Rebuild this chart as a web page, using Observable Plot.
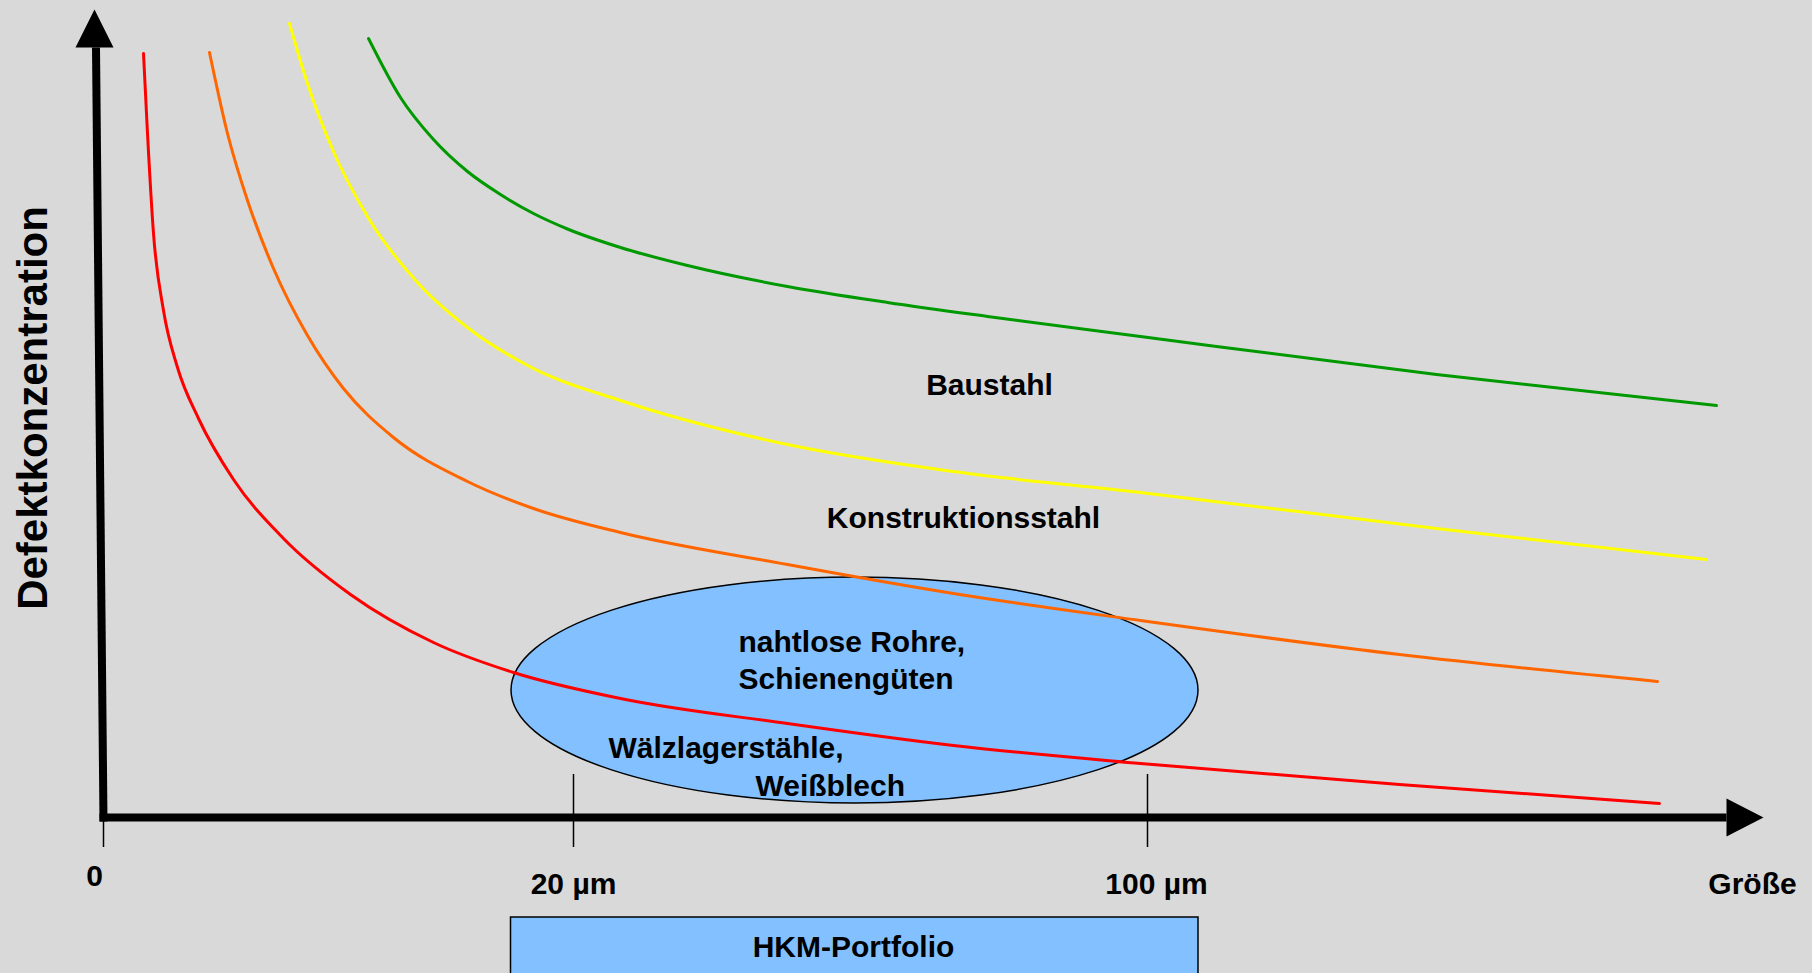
<!DOCTYPE html>
<html>
<head>
<meta charset="utf-8">
<script src="https://cdn.jsdelivr.net/npm/d3@7"></script>
<script src="https://cdn.jsdelivr.net/npm/@observablehq/plot@0.6"></script>
<style>
  html, body { margin: 0; padding: 0; background: #d9d9d9; }
  #chart svg { display: block; }
</style>
</head>
<body>
<div id="chart"></div>
<script>
// Abstract coordinates: x = "Größe" position from the origin, y = "Defektkonzentration" level.
// Curve points.
const redPts    = [[40,764],[44,684],[50,584],[60,507],[74,450],[95,399],[130,338],[180,279],[247,223],[330,175],[410,145],[517,119],[684,94],[850,72],[1037,54],[1296,33],[1556,14]];
const orangePts = [[106,765],[124,684],[144,617],[170,549],[204,482],[240,429],[290,380],[364,336],[430,309],[517,285],[684,253],[850,224],[1037,197],[1296,163],[1554,136]];
const yellowPts = [[186,794],[204,734],[230,666],[264,601],[314,535],[364,490],[430,449],[517,417],[684,373],[850,346],[1037,325],[1333,289],[1603,258]];
const greenPts  = [[265,779],[297,720],[330,678],[364,646],[397,623],[430,604],[464,588.5],[517,570],[584,552],[684,531],[784,515],[884,501],[1037,481],[1333,443],[1613,412]];

const seriesNames  = ["Wälzlagerstähle", "nahtlose Rohre", "Konstruktionsstahl", "Baustahl"];
const seriesPoints = [redPts, orangePts, yellowPts, greenPts];
const seriesColors = ["#ff0000", "#ff6600", "#ffff00", "#009900"];

// Tick positions and labels on the size axis
const tickX      = [0, 470, 1044];
const tickTop    = [0, 43, 43];
const tickLabels = ["0", "20 µm", "100 µm"];
const tickLabelX = [-9, 470, 1053];
const tickLabelY = [-58.4, -66.4, -66.4];

// Axis geometry (abstract units)
const yAxisLine  = [[-7.5, 770], [0, -4]];
const xAxisLine  = [[-4, 0], [1623, 0]];
const yArrowHead = [[-9, 808], [-28, 770], [10, 770]];
const xArrowHead = [[1660, 0], [1623, 19], [1623, -19]];

// Portfolio ellipse and box
const ellipse = {cx: 751.5, cy: 127, rx: 343.5, ry: 113};
const box     = {x1: 407.5, x2: 1095, y1: -100, y2: -175, label: "HKM-Portfolio", lx: 750, ly: -129.4};

// Text annotations
const labelTexts   = ["Baustahl", "Konstruktionsstahl", "nahtlose Rohre,", "Schienengüten", "Wälzlagerstähle,", "Weißblech", "Größe"];
const labelX       = [886, 860, 635, 635, 505, 652, 1649];
const labelY       = [432, 299, 175.6, 138.6, 69.6, 31.6, -66.4];
const labelAnchors = ["middle", "middle", "start", "start", "start", "start", "middle"];

const yTitle = {text: "Defektkonzentration", x: -69.7, y: 409.5};

const FONT = "'Liberation Sans', Arial, Helvetica, sans-serif";

const lineData = seriesNames.flatMap((name, i) =>
  seriesPoints[i].map(([x, y]) => ({series: name, x, y})));

const labels = labelTexts.map((t, i) => ({text: t, x: labelX[i], y: labelY[i], anchor: labelAnchors[i]}));
const ticks = tickX.map((x, i) => ({x, top: tickTop[i], label: tickLabels[i], lx: tickLabelX[i], ly: tickLabelY[i]}));

function ellipseMark(index, scales) {
  const ns = "http://www.w3.org/2000/svg";
  const el = document.createElementNS(ns, "ellipse");
  const cx = scales.x(ellipse.cx), cy = scales.y(ellipse.cy);
  el.setAttribute("cx", cx);
  el.setAttribute("cy", cy);
  el.setAttribute("rx", Math.abs(scales.x(ellipse.cx + ellipse.rx) - cx));
  el.setAttribute("ry", Math.abs(scales.y(ellipse.cy + ellipse.ry) - cy));
  el.setAttribute("fill", "#82c0ff");
  el.setAttribute("stroke", "#000");
  el.setAttribute("stroke-width", 1.5);
  return el;
}

const textStyle = {fontSize: 30, fontWeight: "bold", fill: "#000"};

const chart = Plot.plot({
  width: 1812,
  height: 973,
  marginLeft: 103,
  marginRight: 49,
  marginTop: 9,
  marginBottom: 156,
  x: {domain: [0, 1660], axis: null},
  y: {domain: [0, 808], axis: null},
  style: {background: "#d9d9d9", fontFamily: FONT, overflow: "visible"},
  marks: [
    // HKM-Portfolio box
    Plot.rect([box], {x1: "x1", x2: "x2", y1: "y1", y2: "y2", fill: "#82c0ff", stroke: "#000", strokeWidth: 1.5}),
    ellipseMark,
    // axes
    Plot.line(yAxisLine, {x: d => d[0], y: d => d[1], stroke: "#000", strokeWidth: 8, strokeLinecap: "butt"}),
    Plot.line(xAxisLine, {x: d => d[0], y: d => d[1], stroke: "#000", strokeWidth: 8, strokeLinecap: "butt"}),
    Plot.line(yArrowHead, {x: d => d[0], y: d => d[1], fill: "#000", stroke: "none", curve: "linear-closed"}),
    Plot.line(xArrowHead, {x: d => d[0], y: d => d[1], fill: "#000", stroke: "none", curve: "linear-closed"}),
    Plot.ruleX(ticks, {x: "x", y1: -30, y2: "top", stroke: "#000", strokeWidth: 1.5}),
    // curves
    ...seriesNames.map((name, i) =>
      Plot.line(lineData.filter(d => d.series === name), {
        x: "x", y: "y", stroke: seriesColors[i], strokeWidth: 3, curve: "monotone-x"
      })),
    // tick labels
    Plot.text(ticks, {x: "lx", y: "ly", text: "label", textAnchor: "middle", ...textStyle}),
    // annotations
    Plot.text(labels.filter(d => d.anchor === "middle"), {x: "x", y: "y", text: "text", textAnchor: "middle", ...textStyle}),
    Plot.text(labels.filter(d => d.anchor === "start"), {x: "x", y: "y", text: "text", textAnchor: "start", ...textStyle}),
    Plot.text([box], {x: "lx", y: "ly", text: "label", textAnchor: "middle", ...textStyle}),
    Plot.text([yTitle], {x: "x", y: "y", text: "text", rotate: -90, fontSize: 42, fontWeight: "bold", fill: "#000"})
  ]
});

document.getElementById("chart").appendChild(chart);
</script>
</body>
</html>
